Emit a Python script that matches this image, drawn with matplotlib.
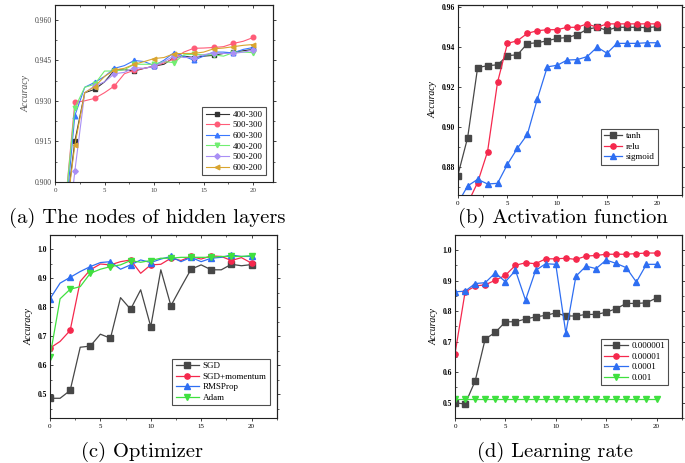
import matplotlib
matplotlib.use("Agg")
import matplotlib.pyplot as plt
from matplotlib.ticker import MultipleLocator, FormatStrFormatter

# ---------------- data ----------------
# (a) nodes of hidden layers, epochs 1..20
xa = list(range(1, 21))
a_400_300 = [0.885, 0.915, 0.933, 0.9342, 0.937, 0.9414, 0.9415, 0.941, 0.942, 0.9428,
             0.9435, 0.946, 0.9465, 0.946, 0.9465, 0.9468, 0.9475, 0.948, 0.9485, 0.949]
a_500_300 = [0.890, 0.9294, 0.930, 0.9309, 0.933, 0.9355, 0.940, 0.9413, 0.942, 0.9428,
             0.944, 0.9455, 0.948, 0.9494, 0.9495, 0.9497, 0.950, 0.9512, 0.952, 0.9534]
a_600_300 = [0.885, 0.9245, 0.935, 0.9368, 0.939, 0.942, 0.943, 0.9449, 0.9445, 0.943,
             0.945, 0.9478, 0.9465, 0.945, 0.9465, 0.948, 0.948, 0.9477, 0.949, 0.9497]
a_400_200 = [0.890, 0.9273, 0.935, 0.9361, 0.941, 0.941, 0.9415, 0.9435, 0.9435, 0.9435,
             0.9445, 0.9441, 0.947, 0.9472, 0.947, 0.947, 0.9465, 0.9478, 0.948, 0.9478]
a_500_200 = [0.870, 0.904, 0.933, 0.9355, 0.937, 0.940, 0.9405, 0.9423, 0.942, 0.9427,
             0.9445, 0.9466, 0.946, 0.946, 0.947, 0.9478, 0.9475, 0.9475, 0.948, 0.9487]
a_600_200 = [0.885, 0.9136, 0.933, 0.9352, 0.939, 0.9414, 0.942, 0.9435, 0.9445, 0.9456,
             0.946, 0.9474, 0.9475, 0.9475, 0.948, 0.9492, 0.9495, 0.950, 0.9505, 0.9508]
a_labels = ["400-300", "500-300", "600-300", "400-200", "500-200", "600-200"]

# (b) activation function, epochs 0..20
xb = list(range(0, 21))
b_tanh = [0.8757, 0.8948, 0.9296, 0.9306, 0.931, 0.9356, 0.936, 0.9416, 0.942, 0.943, 0.9442,
          0.9446, 0.946, 0.9487, 0.9497, 0.9482, 0.9497, 0.9497, 0.9497, 0.9495, 0.950]
b_relu = [0.858, 0.862, 0.8724, 0.8878, 0.9223, 0.9417, 0.943, 0.9467, 0.948, 0.9485, 0.9485,
          0.9497, 0.9497, 0.9514, 0.9497, 0.9514, 0.9514, 0.9514, 0.9514, 0.9514, 0.9514]
b_sigmoid = [0.862, 0.8707, 0.874, 0.8717, 0.872, 0.8815, 0.8895, 0.8964, 0.914, 0.930, 0.9308,
             0.9334, 0.9336, 0.9351, 0.9398, 0.9368, 0.9417, 0.9417, 0.9417, 0.942, 0.942]
b_labels = ["tanh", "relu", "sigmoid"]

# (c) optimizer, epochs 0..20
xc = list(range(0, 21))
c_sgd = [0.486, 0.486, 0.513, 0.662, 0.666, 0.707, 0.693, 0.833, 0.793, 0.860, 0.733,
         0.929, 0.805, 0.869, 0.931, 0.946, 0.929, 0.929, 0.948, 0.943, 0.947]
c_sgdm = [0.659, 0.682, 0.720, 0.889, 0.929, 0.949, 0.946, 0.957, 0.963, 0.917, 0.946,
          0.948, 0.969, 0.961, 0.975, 0.966, 0.977, 0.975, 0.961, 0.971, 0.952]
c_rms = [0.829, 0.883, 0.903, 0.923, 0.940, 0.954, 0.957, 0.931, 0.946, 0.963, 0.954,
         0.966, 0.975, 0.957, 0.972, 0.957, 0.969, 0.972, 0.980, 0.975, 0.975]
c_adam = [0.630, 0.829, 0.862, 0.871, 0.917, 0.931, 0.940, 0.946, 0.961, 0.955, 0.961,
          0.969, 0.969, 0.972, 0.972, 0.972, 0.972, 0.975, 0.975, 0.975, 0.978]
c_labels = ["SGD", "SGD+momentum", "RMSProp", "Adam"]

# (d) learning rate, epochs 0..20
xd = list(range(0, 21))
d_1e6 = [0.500, 0.4956, 0.571, 0.709, 0.730, 0.765, 0.765, 0.774, 0.781, 0.786, 0.794,
         0.784, 0.784, 0.789, 0.789, 0.796, 0.808, 0.825, 0.825, 0.827, 0.843]
d_1e5 = [0.660, 0.862, 0.882, 0.886, 0.901, 0.917, 0.950, 0.958, 0.955, 0.971, 0.971,
         0.973, 0.969, 0.980, 0.982, 0.986, 0.986, 0.986, 0.988, 0.990, 0.990]
d_1e4 = [0.863, 0.865, 0.890, 0.893, 0.925, 0.896, 0.933, 0.836, 0.933, 0.955, 0.953,
         0.728, 0.914, 0.947, 0.939, 0.967, 0.956, 0.942, 0.895, 0.953, 0.953]
d_1e3 = [0.513] * 21
d_labels = ["0.000001", "0.00001", "0.0001", "0.001"]

captions = ["(a) The nodes of hidden layers", "(b) Activation function",
            "(c) Optimizer", "(d) Learning rate"]

# ---------------- styling ----------------
W, H = 685, 463
fig = plt.figure(figsize=(W / 100, H / 100), dpi=100)
SERIF = "Liberation Serif"

def make_ax(l, t, r, b):
    return fig.add_axes([l / W, 1 - b / H, (r - l) / W, (b - t) / H])

def style(ax, xlim, ylim, ymaj, ymin, yfmt, bold, tcol="black"):
    ax.set_xlim(*xlim)
    ax.set_ylim(*ylim)
    ax.xaxis.set_major_locator(MultipleLocator(5))
    ax.xaxis.set_minor_locator(MultipleLocator(2.5))
    ax.yaxis.set_major_locator(MultipleLocator(ymaj))
    ax.yaxis.set_minor_locator(MultipleLocator(ymin))
    ax.yaxis.set_major_formatter(FormatStrFormatter(yfmt))
    for s in ax.spines.values():
        s.set_linewidth(0.8)
        s.set_color("#222222")
    ax.tick_params(axis="y", which="both", direction="in", left=True, right=False,
                   labelsize=5.5, colors="#222222", labelcolor=tcol, pad=2)
    ax.tick_params(axis="x", which="both", direction="out", bottom=True, top=False,
                   labelsize=5.0, colors="#222222", labelcolor=tcol, pad=1.5)
    ax.tick_params(which="major", length=2.5, width=0.6)
    ax.tick_params(which="minor", length=1.3, width=0.5)
    for lab in ax.get_xticklabels() + ax.get_yticklabels():
        lab.set_fontfamily(SERIF)
    for lab in ax.get_yticklabels():
        lab.set_fontweight("bold" if bold else "normal")
    sx = ax.secondary_xaxis("top")
    sx.xaxis.set_major_locator(MultipleLocator(5))
    sx.xaxis.set_minor_locator(MultipleLocator(2.5))
    sx.tick_params(which="both", direction="in", labeltop=False, colors="#222222")
    sx.tick_params(which="major", length=2.5, width=0.6)
    sx.tick_params(which="minor", length=1.3, width=0.5)
    sy = ax.secondary_yaxis("right")
    sy.yaxis.set_major_locator(MultipleLocator(ymaj))
    sy.yaxis.set_minor_locator(MultipleLocator(ymin))
    sy.tick_params(which="both", direction="out", labelright=False, colors="#222222")
    sy.tick_params(which="major", length=2.5, width=0.6)
    sy.tick_params(which="minor", length=1.3, width=0.5)
    for sp in list(sx.spines.values()) + list(sy.spines.values()):
        sp.set_linewidth(0.8)
        sp.set_color("#222222")
    ax.set_ylabel("Accuracy", fontfamily=SERIF, fontstyle="italic", fontsize=7,
                  labelpad=3)

def legend(ax, loc_box, fs=6.5, hl=2.4):
    lg = ax.legend(loc="lower left", bbox_to_anchor=loc_box, prop={"family": SERIF, "size": fs},
                   frameon=True, fancybox=False, borderpad=0.35, labelspacing=0.25,
                   handlelength=hl, handletextpad=0.4, borderaxespad=0)
    lg.get_frame().set_edgecolor("#222222")
    lg.get_frame().set_linewidth(0.8)
    return lg

GRAY = "#474747"
RED = "#f5284d"
BLUE = "#2e6ef2"
GREEN = "#3fe03f"

# ---------------- (a) ----------------
ax = make_ax(55, 5, 273, 182)
cols_a = ["#333333", "#ff5c78", "#3a78ff", "#72ee72", "#a98ff5", "#d9a530"]
marks_a = ["s", "o", "^", "v", "D", "<"]
for ys, lab, c, m in zip([a_400_300, a_500_300, a_600_300, a_400_200, a_500_200, a_600_200],
                         a_labels, cols_a, marks_a):
    ax.plot(xa, ys, color=c, marker=m, markersize=3.3 if m != "D" else 2.8,
            markevery=(1, 2), linewidth=0.8, label=lab)
style(ax, (0, 22), (0.900, 0.9654), 0.015, 0.0075, "%.3f", False, tcol="#444444")
ax.yaxis.label.set_color("#555555")
legend(ax, (0.676, 0.04), fs=6.5, hl=2.6)

# ---------------- (b) ----------------
ax = make_ax(457.7, 5, 681.7, 195)
for ys, lab, c, m in zip([b_tanh, b_relu, b_sigmoid], b_labels, [GRAY, RED, BLUE], ["s", "o", "^"]):
    ax.plot(xb, ys, color=c, marker=m, markersize=3.8, linewidth=0.9, label=lab)
style(ax, (0, 22.5), (0.8662, 0.9608), 0.02, 0.01, "%.2f", True)
legend(ax, (0.64, 0.16), fs=6.5, hl=2.0)

# ---------------- (c) ----------------
ax = make_ax(50, 235, 276.7, 418)
for ys, lab, c, m in zip([c_sgd, c_sgdm, c_rms, c_adam], c_labels, [GRAY, RED, BLUE, GREEN],
                         ["s", "o", "^", "v"]):
    ax.plot(xc, ys, color=c, marker=m, markersize=3.8, markevery=2, linewidth=0.9, label=lab)
style(ax, (0, 22.5), (0.418, 1.049), 0.1, 0.05, "%.1f", True)
legend(ax, (0.54, 0.07), fs=6.5, hl=2.6)

# ---------------- (d) ----------------
ax = make_ax(455, 235, 681.7, 418)
for ys, lab, c, m in zip([d_1e6, d_1e5, d_1e4, d_1e3], d_labels, [GRAY, RED, BLUE, GREEN],
                         ["s", "o", "^", "v"]):
    ax.plot(xd, ys, color=c, marker=m, markersize=3.8, linewidth=0.9, label=lab)
style(ax, (0, 22.5), (0.45, 1.049), 0.1, 0.05, "%.1f", True)
legend(ax, (0.645, 0.18), fs=6.5, hl=2.6)

# ---------------- captions ----------------
cap_pos = [(147, 218), (563, 218), (142, 452), (555, 452)]
for txt, (cx, cy) in zip(captions, cap_pos):
    fig.text(cx / W, 1 - cy / H, txt, fontfamily="cmr10", fontsize=14.8,
             ha="center", va="center")

fig.savefig("out.png", dpi=100)
